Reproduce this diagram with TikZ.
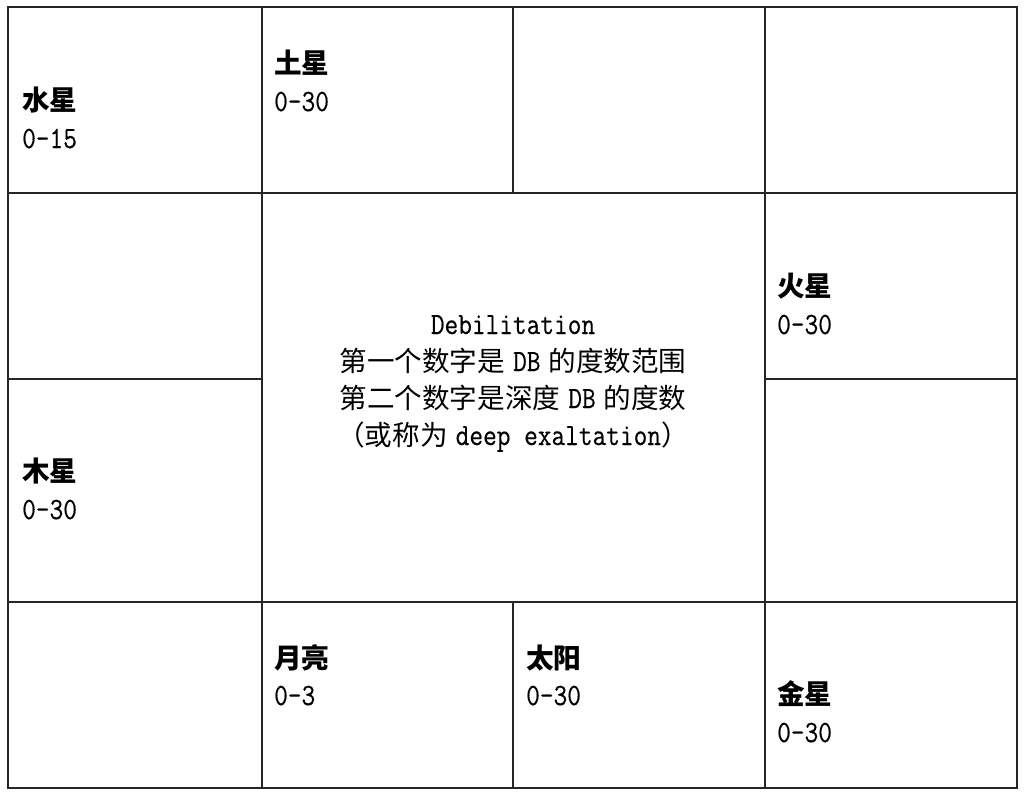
\documentclass[tikz,border=0pt]{standalone}
\usepackage{fontspec}
\usetikzlibrary{positioning,calc}
\newfontfamily\cjk{Noto Sans CJK SC}
\newfontfamily\mono[Scale=1.12,FakeStretch=0.86,FakeBold=0.4]{Latin Modern Mono}
\newcommand*{\hd}[1]{{\cjk\bfseries #1}}
\newcommand*{\rg}[1]{{\mono #1}}

\begin{document}
\begin{tikzpicture}[x=1pt,y=-1pt,
  every node/.style={inner sep=0pt,font=\fontsize{27.6}{37}\selectfont},
  grid/.style={line width=1.3pt,black!85}]
\useasboundingbox (0,0) rectangle (1024,792);
% Outer frame goes from (tl) to (br)
\coordinate (tl) at (8,7);
\coordinate (br) at (1017,788);
\draw[grid] (tl) rectangle (br);
% Column lines
\draw[grid] (262,7) -- (262,788);
\draw[grid] (513,7) -- (513,193);
\draw[grid] (513,602) -- (513,788);
\draw[grid] (765,7) -- (765,788);
% Row lines
\draw[grid] (8,193) -- (1017,193);
\draw[grid] (8,602) -- (1017,602);
\draw[grid] (8,379) -- (262,379);
\draw[grid] (765,379) -- (1017,379);
% Planets, name and range
\node[anchor=base west] (mer) at (22,110) {\hd{水星}};
\node[anchor=base west] (mer r) at (22,148) {\rg{0-15}};
\node[anchor=base west] (sat) at (274,73) {\hd{土星}};
\node[anchor=base west] (sat r) at (274,111) {\rg{0-30}};
\node[anchor=base west] (mar) at (777,296) {\hd{火星}};
\node[anchor=base west] (mar r) at (777,334) {\rg{0-30}};
\node[anchor=base west] (jup) at (22,481) {\hd{木星}};
\node[anchor=base west] (jup r) at (22,519) {\rg{0-30}};
\node[anchor=base west] (moon) at (274,668) {\hd{月亮}};
\node[anchor=base west] (moon r) at (274,705) {\rg{0-3}};
\node[anchor=base west] (sun) at (526,668) {\hd{太阳}};
\node[anchor=base west] (sun r) at (526,705) {\rg{0-30}};
\node[anchor=base west] (ven) at (777,704) {\hd{金星}};
\node[anchor=base west] (ven r) at (777,742) {\rg{0-30}};
% Legend in the middle
\node[anchor=base] (ttl) at (513,334) {\rg{Debilitation}};
\node[anchor=base] (l1) at (513,371)
  {\cjk 第一个数字是\hspace{8pt}\rg{DB}\hspace{8pt}的度数范围};
\node[anchor=base] (l2) at (513,408)
  {\cjk 第二个数字是深度\hspace{8pt}\rg{DB}\hspace{8pt}的度数};
\node[anchor=base] (l3) at (513,445)
  {\cjk （或称为\hspace{8pt}\rg{deep exaltation}）};
\end{tikzpicture}
\end{document}
